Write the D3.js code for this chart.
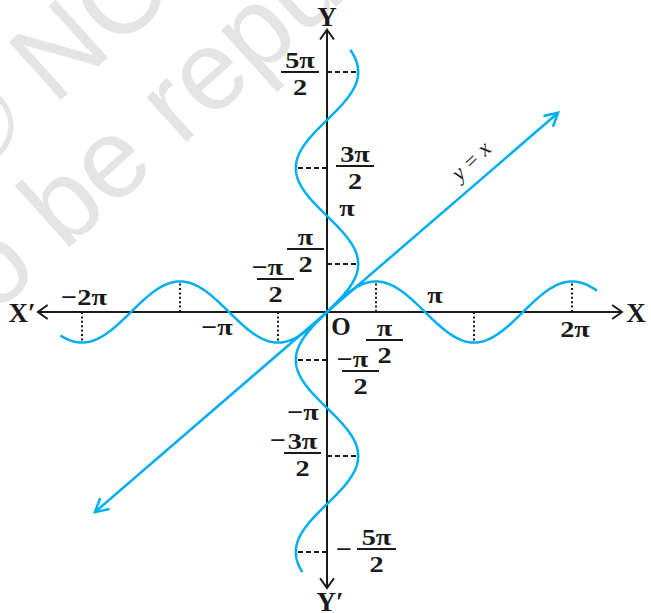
<!DOCTYPE html>
<html>
<head>
<meta charset="utf-8">
<script src="https://cdn.jsdelivr.net/npm/d3@7"></script>
<style>
  html, body { margin: 0; padding: 0; background: #fff; }
  svg { display: block; }
  .lbl { font-family: "Liberation Serif", "Times New Roman", serif; font-weight: bold; fill: #1a1a1a; }
  .wm text { white-space: pre; }
</style>
</head>
<body>
<script>
const PI = Math.PI;

// Extents (in radians) of the two curves and the axes
const sineExtent = [-2.72 * PI, 2.755 * PI];      // y = sin x, along x
const inverseExtent = [-2.71 * PI, 2.73 * PI];    // x = sin y, along y
const xAxisExtent = [-2.95 * PI, 3.01 * PI];
const yAxisExtent = [-2.875 * PI, 2.94 * PI];
// Ends of the line labelled y = x
const diagonalEnds = [[-7.44, -6.55], [7.41, 6.52]];
// Turning points, as multiples of π
const turnMultiples = [-2.5, -1.5, -0.5, 0.5, 1.5, 2.5];
// Tick labels
const xTickLabels = ["−2π", "−π", "−π/2", "π/2", "π", "2π"];
const yTickLabels = ["5π/2", "3π/2", "π", "π/2", "−π/2", "−π", "−3π/2", "−5π/2"];
const watermarkLines = ["© NCERT", "not to be republished"];

const W = 651, H = 613;
const svg = d3.select("body").append("svg").attr("width", W).attr("height", H);

const x = d3.scaleLinear().domain([-PI, PI]).range([327 - 98, 327 + 98]);
const y = d3.scaleLinear().domain([-PI, PI]).range([312 + 96, 312 - 96]);
const x0 = x(0), y0 = y(0);

// Watermark
const wm = svg.append("g").attr("class", "wm").attr("fill", "#e4e4e4")
  .style("font-family", "'Liberation Sans', Arial, sans-serif").style("font-size", "113px");
function wmText(px, py, left, right) {
  const g = wm.append("g").attr("transform", `translate(${px},${py}) rotate(-42)`);
  g.append("text").attr("text-anchor", "end").text(left);
  g.append("text").attr("text-anchor", "start").text(right);
}
wmText(54, 106, watermarkLines[0].slice(0, 2), watermarkLines[0].slice(2));
wmText(64, 252, watermarkLines[1].slice(0, 7), watermarkLines[1].slice(7));

const blue = "#00aeef";
const ink = "#1a1a1a";

// Open arrowhead
function chevron(g, tx, ty, angle, size, spread, color, width) {
  const a1 = angle + PI - spread, a2 = angle + PI + spread;
  g.append("path")
    .attr("d", `M${tx + size * Math.cos(a1)},${ty + size * Math.sin(a1)}L${tx},${ty}L${tx + size * Math.cos(a2)},${ty + size * Math.sin(a2)}`)
    .attr("fill", "none").attr("stroke", color).attr("stroke-width", width)
    .attr("stroke-linejoin", "miter").attr("stroke-linecap", "butt");
}

// Axes
const axes = svg.append("g");
axes.append("line").attr("x1", x(xAxisExtent[0])).attr("x2", x(xAxisExtent[1]))
  .attr("y1", y0).attr("y2", y0).attr("stroke", ink).attr("stroke-width", 2);
axes.append("line").attr("x1", x0).attr("x2", x0)
  .attr("y1", y(yAxisExtent[0])).attr("y2", y(yAxisExtent[1])).attr("stroke", ink).attr("stroke-width", 2);
chevron(axes, x(xAxisExtent[1]), y0, 0, 12, 0.62, ink, 2);
chevron(axes, x(xAxisExtent[0]), y0, PI, 12, 0.62, ink, 2);
chevron(axes, x0, y(yAxisExtent[1]), -PI / 2, 12, 0.62, ink, 2);
chevron(axes, x0, y(yAxisExtent[0]), PI / 2, 12, 0.62, ink, 2);

// Dotted guides from the x-axis to the turning points of y = sin x
svg.append("g").selectAll("line").data(turnMultiples).join("line")
  .attr("x1", d => x(d * PI)).attr("x2", d => x(d * PI))
  .attr("y1", y0).attr("y2", d => y(Math.sin(d * PI)))
  .attr("stroke", ink).attr("stroke-width", 2).attr("stroke-dasharray", "2,2.4");

// Dashed guides from the y-axis to the turning points of x = sin y
svg.append("g").selectAll("line").data(turnMultiples).join("line")
  .attr("y1", d => y(d * PI)).attr("y2", d => y(d * PI))
  .attr("x1", x0).attr("x2", d => x(Math.sin(d * PI)))
  .attr("stroke", ink).attr("stroke-width", 2).attr("stroke-dasharray", "5,3");

// Curves
const N = 600;
const sinePts = d3.range(N + 1).map(i => {
  const t = sineExtent[0] + (sineExtent[1] - sineExtent[0]) * i / N;
  return [t, Math.sin(t)];
});
const invPts = d3.range(N + 1).map(i => {
  const t = inverseExtent[0] + (inverseExtent[1] - inverseExtent[0]) * i / N;
  return [Math.sin(t), t];
});
const line = d3.line().x(d => x(d[0])).y(d => y(d[1]));
svg.append("path").attr("d", line(sinePts)).attr("fill", "none").attr("stroke", blue).attr("stroke-width", 2.5);
svg.append("path").attr("d", line(invPts)).attr("fill", "none").attr("stroke", blue).attr("stroke-width", 2.5);

// Line y = x with arrows at both ends
svg.append("path").attr("d", line(diagonalEnds)).attr("fill", "none").attr("stroke", blue).attr("stroke-width", 2.5);
{
  const [p, q] = diagonalEnds.map(d => [x(d[0]), y(d[1])]);
  const ang = Math.atan2(q[1] - p[1], q[0] - p[0]);
  chevron(svg, q[0], q[1], ang, 15, 0.5, blue, 2.5);
  chevron(svg, p[0], p[1], ang + PI, 15, 0.5, blue, 2.5);
}

// Labels (bold serif, slightly widened)
const L = svg.append("g").attr("class", "lbl").style("font-size", "24px");
function txt(s, cx, by, opts = {}) {
  const sx = opts.sx || 1.18;
  return L.append("text").attr("transform", `translate(${cx},${by}) scale(${sx},1)`)
    .attr("text-anchor", opts.anchor || "middle")
    .style("font-size", opts.size || null)
    .text(s);
}
// fraction: numerator over denominator around a bar from bx1 to bx2 at height by
function frac(num, den, bx1, bx2, by, numDx = 0) {
  const cx = (bx1 + bx2) / 2;
  txt(num, cx + numDx, by - 4);
  L.append("line").attr("x1", bx1).attr("x2", bx2).attr("y1", by).attr("y2", by)
    .attr("stroke", ink).attr("stroke-width", 2);
  txt(den, cx, by + 23);
}
function parts(s) { const i = s.indexOf("/"); return [s.slice(0, i), s.slice(i + 1)]; }

// Axis names
txt("Y", x0, 26, { size: "27px", sx: 1 });
txt("Y′", x0 + 3, 611, { size: "27px", sx: 1 });
txt("X′", 22, 322, { size: "27px", sx: 1 });
txt("X", 636, 322, { size: "27px", sx: 1 });
txt("O", x0 + 14, y0 + 23, { size: "25px", sx: 1 });

// x-axis labels
txt(xTickLabels[0], 84, y0 - 7);
txt(xTickLabels[1], 217, y0 + 23);
{ const [n, d] = parts(xTickLabels[2]); frac(n, d, 257, 294, 279, -8); }
{ const [n, d] = parts(xTickLabels[3]); frac(n, d, 366, 403, y0 + 28); }
txt(xTickLabels[4], 435, y0 - 9);
txt(xTickLabels[5], 575, y0 + 25);

// y-axis labels
{ const [n, d] = parts(yTickLabels[0]); frac(n, d, 281, 319, 72); }
{ const [n, d] = parts(yTickLabels[1]); frac(n, d, 336, 374, 166); }
txt(yTickLabels[2], 347, 216);
{ const [n, d] = parts(yTickLabels[3]); frac(n, d, 287, 324, 249); }
{ const [n, d] = parts(yTickLabels[4]); frac(n, d, 342, 379, 371, -8); }
txt(yTickLabels[5], 303, 420);
{ const [n, d] = parts(yTickLabels[6]);
  frac(n.slice(1), d, 284, 321, 453);
  txt(n[0], 278, 448); }
{ const [n, d] = parts(yTickLabels[7]);
  frac(n.slice(1), d, 357, 396, 549);
  txt(n[0], 344, 557); }

// Equation label along the diagonal
L.append("text").attr("transform", "translate(476,166) rotate(-44)")
  .attr("text-anchor", "middle")
  .style("font-weight", "normal").style("font-style", "italic").style("font-size", "22px")
  .text("y = x");
</script>
</body>
</html>
